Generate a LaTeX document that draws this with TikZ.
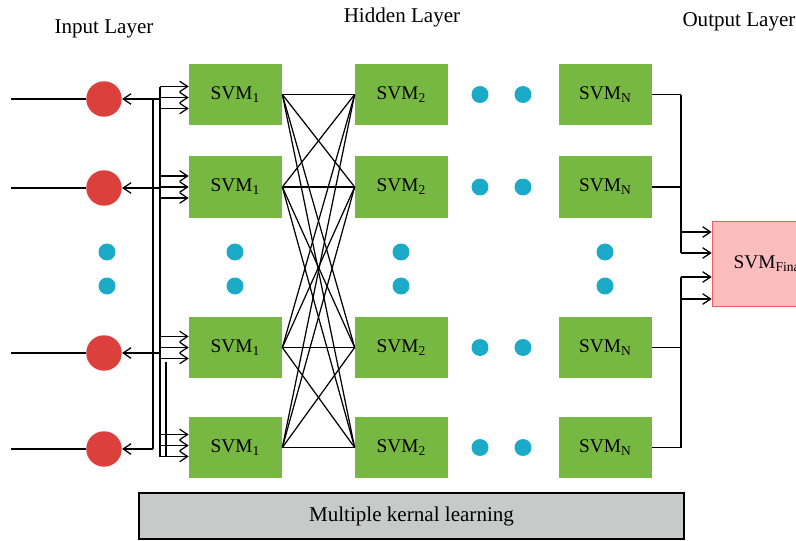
\documentclass[tikz,border=0pt]{standalone}
\usepackage{fontspec}
\setmainfont{Liberation Serif}
\usepackage{tikz}
\usetikzlibrary{arrows.meta,calc,positioning}
\usepackage{xcolor}
\definecolor{svmgreen}{RGB}{119,184,67}
\definecolor{inred}{RGB}{219,64,61}
\definecolor{dotteal}{RGB}{27,170,200}
\definecolor{finpink}{RGB}{250,188,188}
\definecolor{finred}{RGB}{232,96,96}
\definecolor{mklgray}{RGB}{200,201,201}
\newcommand{\svmlabel}[1]{SVM\textsubscript{#1}}
\tikzstyle{svmbox} = [rectangle, minimum width=1.86cm, minimum height=1.24cm, inner sep=0pt, fill=svmgreen, font=\fontsize{11}{13}\selectfont]
\tikzstyle{inputnode} = [circle, minimum size=0.71cm, inner sep=0pt, fill=inred]
\tikzstyle{tealdot} = [circle, minimum size=0.34cm, inner sep=0pt, fill=dotteal]
\tikzstyle{layertitle} = [font=\fontsize{12}{14}\selectfont]
\tikzstyle{link} = [line width=0.7pt]
\tikzstyle{arrow} = [line width=0.7pt, -{Straight Barb[length=4.5pt,width=6pt]}]

\begin{document}
\begin{tikzpicture}[x=0.02cm, y=-0.02cm]
\useasboundingbox (0,0) rectangle (796,541);
\clip (0,0) rectangle (796,541);

% Layer titles
\node (tin) [layertitle] at (104,29) {Input Layer};
\node (thid) [layertitle] at (402,17) {Hidden Layer};
\node (tout) [layertitle] at (739,22) {Output Layer};

% Bus positions
\coordinate (busA) at (153,0);
\coordinate (busB) at (160,0);
\coordinate (busC) at (166,0);
\coordinate (busR) at (681,0);

% Inputs and hidden SVM rows
\foreach \r/\y/\cy in {1/94.5/99, 2/187/188, 3/347.5/353, 4/447.5/449} {
  \node (in\r) [inputnode] at (104,\cy) {};
  \coordinate (src\r) at (11,\cy);
  \node (a\r) [svmbox] at (235.5,\y) {\svmlabel{1}};
  \node (b\r) [svmbox] at (401.5,\y) {\svmlabel{2}};
  \node (c\r) [svmbox] at (605.5,\y) {\svmlabel{N}};
  \node (dl\r) [tealdot] at (480,\y) {};
  \node (dr\r) [tealdot] at (523,\y) {};
  \draw[link] (src\r) -- (in\r);
}

% Vertical dots
\foreach \x [count=\k] in {107,235,401,605} {
  \node (vu\k) [tealdot] at (\x,252) {};
  \node (vl\k) [tealdot] at (\x,286) {};
}

% Output SVM
\node (fin) [rectangle, draw=finred, fill=finpink, minimum width=2.28cm, minimum height=1.7cm, inner sep=0pt, font=\fontsize{11}{13}\selectfont] at (769,263.5) {\svmlabel{Final}};

% Multiple kernel box
\node (mkl) [rectangle, draw, line width=0.9pt, fill=mklgray, minimum width=10.9cm, minimum height=0.92cm, font=\fontsize{12}{14}\selectfont] at (411.5,516) {Multiple kernal learning};

% Bus from inputs to first SVMs
\foreach \r in {1,2,3}
  \draw[arrow] (busB |- in\r.center) -- (in\r.east);
\draw[arrow] (busA |- in4.center) -- (in4.east);
\draw[link] (busA |- in1.center) -- (busA |- in4.center);
\foreach \r/\s in {1/3, 2/0, 3/0, 4/-2}
  \foreach \d in {-11,0,11} {
    \coordinate (p) at ($(a\r.west)+(0,\d+\s)$);
    \draw[arrow] (busB |- p) -- (p);
  }
\coordinate (btop) at ($(a1.west)+(0,-8)$);
\coordinate (bbot) at ($(a4.west)+(0,9)$);
\coordinate (ctop) at ($(a3.west)+(0,14.5)$);
\draw[link] (busB |- btop) -- (busB |- bbot);
\draw[link] (busC |- ctop) -- (busC |- bbot);

% Full connection between SVM_1 and SVM_2
\foreach \i in {1,...,4}
  \foreach \j in {1,...,4}
    \draw[link] (a\i.east) -- (b\j.west);

% SVM_N to output
\foreach \r in {1,...,4}
  \draw[link] (c\r.east) -- (busR |- c\r.east);
\foreach \d [count=\k] in {-31.5,-10.5,13.5,35.5} {
  \coordinate (f\k) at ($(fin.west)+(0,\d)$);
  \draw[arrow] (busR |- f\k) -- (f\k);
}
\draw[link] (busR |- c1.east) -- (busR |- f2);
\draw[link] (busR |- f3) -- (busR |- c4.east);
\end{tikzpicture}
\end{document}
